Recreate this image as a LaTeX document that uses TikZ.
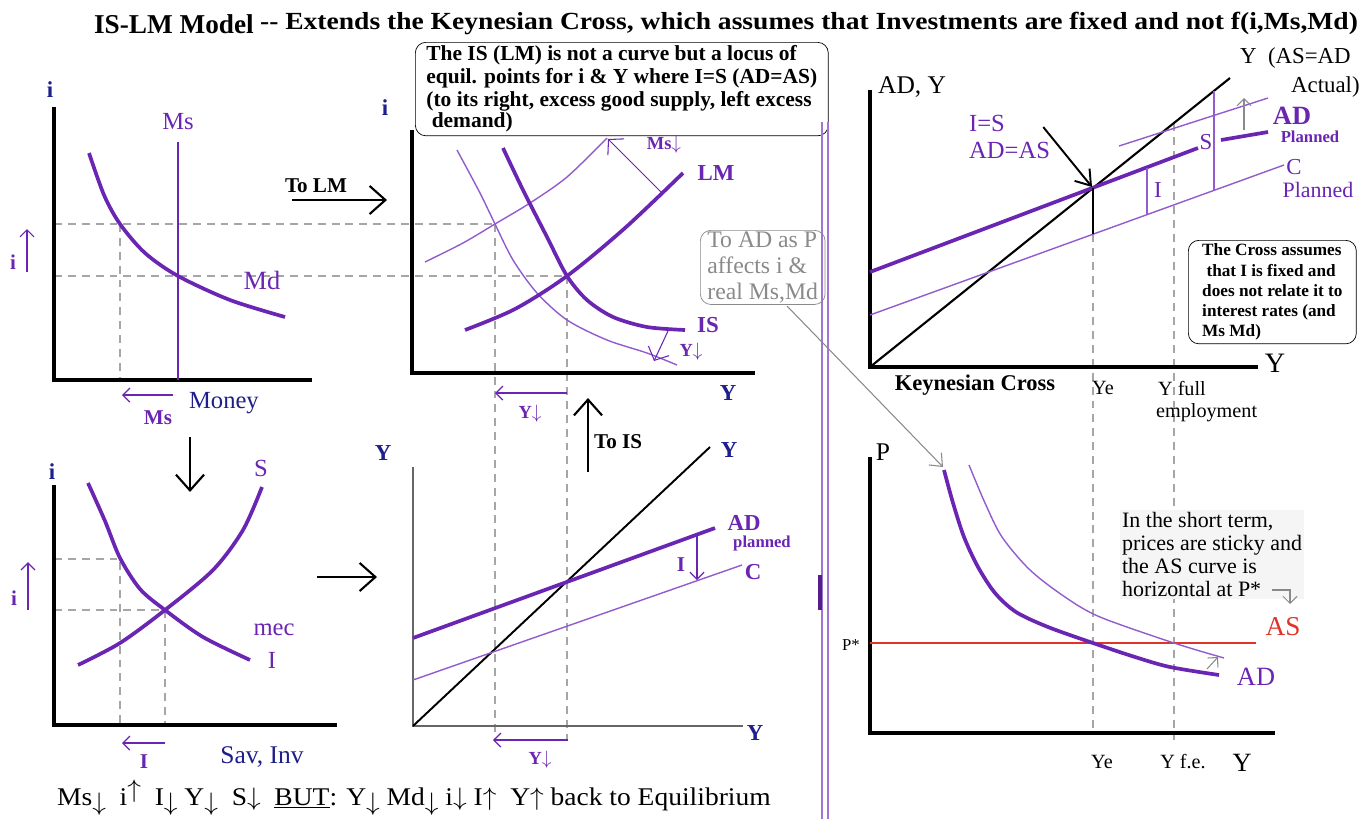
\documentclass[tikz,border=0pt]{standalone}
\usepackage{graphicx}
\usepackage{fontspec}
\setmainfont{Liberation Serif}
\usetikzlibrary{arrows.meta,positioning}
\definecolor{islmviolet}{RGB}{106,38,178}
\definecolor{islmlilac}{RGB}{146,92,206}
\definecolor{islmnavy}{RGB}{30,30,140}
\definecolor{islmred}{RGB}{224,52,40}
\definecolor{islmgray}{RGB}{138,138,138}
\newcommand{\lowdn}{\raisebox{-0.5ex}{$\downarrow$}}
\newcommand{\highup}{\raisebox{0.6ex}{$\uparrow$}}

\begin{document}
\begin{tikzpicture}[x=0.02cm,y=-0.02cm,
  every node/.style={inner sep=1pt},
  axis/.style={line width=2pt,black},
  softaxis/.style={line width=1.1pt,black!60},
  schedule/.style={line width=2.1pt,islmviolet},
  shifted/.style={line width=0.8pt,islmlilac},
  guide/.style={line width=0.8pt,black!35,dash pattern=on 4.5pt off 3.4pt},
  nudge/.style={-{Straight Barb[length=4pt,width=8pt]},line width=0.7pt,islmviolet},
  widenudge/.style={-{Straight Barb[length=6pt,width=13pt]},line width=0.6pt,islmviolet},
  greynudge/.style={-{Straight Barb[length=4pt,width=8pt]},line width=0.6pt,islmgray},
  flow/.style={-{Straight Barb[length=9pt,width=16pt]},line width=1.2pt},
  axname/.style={text=islmnavy,font=\bfseries\fontsize{13}{15}\selectfont},
  navyname/.style={text=islmnavy,font=\fontsize{14}{16}\selectfont},
  curvename/.style={text=islmviolet,font=\fontsize{14}{16}\selectfont},
  boldname/.style={text=islmviolet,font=\bfseries\fontsize{13}{15}\selectfont},
  shiftname/.style={text=islmviolet,font=\bfseries\fontsize{10.5}{12}\selectfont},
  txt/.style={font=\fontsize{12}{14}\selectfont},
  remark/.style={draw,rounded corners=6pt,align=left,inner xsep=4pt,inner ysep=2pt}]

\fill[white] (0,0) rectangle (1369,819);
\useasboundingbox (0,0) rectangle (1369,819);

\node[anchor=base west,font=\bfseries\fontsize{15.5}{18}\selectfont] (title) at (92,33) {IS-LM Model};
\node[anchor=base west,font=\bfseries\fontsize{14}{16}\selectfont] (subtitle) at (258,29)
  {\scalebox{1.12}[1]{-{}- Extends the Keynesian Cross, which assumes that Investments are fixed and not f(i,Ms,Md)}};

% money market
\draw[guide] (54,224) -- (495,224);
\draw[guide] (54,276) -- (567,276);
\draw[guide] (120,224) -- (120,380);
\draw[axis] (54,107) -- (54,380) -- (312,380);
\draw[schedule,line width=1.6pt] (178,142) -- (178,380);
\draw[schedule] plot[smooth] coordinates {(89,153) (104,195) (120,224) (145,253) (178,276) (230,300) (285,317)};
\node[axname] (mmi) at (50,90) {i};
\node[curvename] (mmms) at (178,122) {Ms};
\node[curvename,font=\fontsize{15}{17}\selectfont] (mmmd) at (262,280) {Md};
\node[navyname,anchor=west] (money) at (187,403) {Money};
\coordinate (msfrom) at (173,395); \coordinate (msto) at (122,395);
\draw[nudge] (msfrom) -- (msto);
\node[shiftname,font=\bfseries\fontsize{12}{14}\selectfont] (msless) at (158,418) {Ms};
\coordinate (mmilow) at (27,272); \coordinate (mmihigh) at (27,229);
\draw[nudge] (mmilow) -- (mmihigh);
\node[shiftname,font=\bfseries\fontsize{12}{14}\selectfont] (mmiup) at (13,262) {i};
\node[font=\bfseries\fontsize{12}{14}\selectfont] (tolm) at (316,186) {To LM};
\coordinate (tolmtail) at (292,200); \coordinate (tolmhead) at (387,200);
\draw[flow] (tolmtail) -- (tolmhead);
\coordinate (downtail) at (190,437); \coordinate (downhead) at (190,492);
\draw[flow] (downtail) -- (downhead);

% savings and investment
\draw[guide] (54,559) -- (120,559) -- (120,725);
\draw[guide] (54,610) -- (165,610) -- (165,725);
\draw[axis] (54,485) -- (54,725) -- (337,725);
\draw[schedule] plot[smooth] coordinates {(78,665) (120,643) (165,610) (213,570) (243,530) (262,487)};
\draw[schedule] plot[smooth] coordinates {(88,483) (105,521) (120,558) (140,589) (165,610) (203,637) (250,660)};
\node[axname] (sii) at (52,472) {i};
\node[curvename] (sis) at (261,468) {S};
\node[curvename] (simec) at (274,630) {mec};
\node[curvename] (sii2) at (272,660) {I};
\node[navyname,font=\fontsize{14.5}{16}\selectfont] (savinv) at (262,757) {Sav, Inv};
\coordinate (invfrom) at (165,743); \coordinate (invto) at (122,743);
\draw[nudge] (invfrom) -- (invto);
\node[shiftname,font=\bfseries\fontsize{12}{14}\selectfont] (invless) at (144,762) {I};
\coordinate (siilow) at (28,610); \coordinate (siihigh) at (28,562);
\draw[nudge] (siilow) -- (siihigh);
\node[shiftname,font=\bfseries\fontsize{12}{14}\selectfont] (siiup) at (14,598) {i};
\coordinate (righttail) at (317,577); \coordinate (righthead) at (377,577);
\draw[flow] (righttail) -- (righthead);

\node[anchor=base west,font=\fontsize{14.5}{16}\selectfont] (chain) at (55,805)
  {\scalebox{1.08}[1]{Ms\lowdn\ \ i\highup\ \ I\lowdn\ Y\lowdn\ \ S$\downarrow$\ \ \underline{BUT}: Y\lowdn\ Md\lowdn\ i$\downarrow$ I$\uparrow$\ \ Y$\uparrow$ back to Equilibrium}};

% IS-LM
\draw[guide] (495,224) -- (495,740);
\draw[guide] (567,276) -- (567,740);
\draw[axis] (412,130) -- (412,373) -- (755,373);
\draw[shifted] plot[smooth] coordinates {(425,262) (463,243) (495,224) (530,203) (567,177) (607,138)};
\draw[shifted] plot[smooth] coordinates {(457,150) (480,193) (495,224) (513,260) (537,293) (567,320) (607,340) (647,353) (677,365)};
\draw[schedule] plot[smooth] coordinates {(465,330) (515,309) (567,276) (625,228) (683,173)};
\draw[schedule] plot[smooth] coordinates {(503,148) (523,190) (547,237) (567,276) (587,300) (613,317) (647,327) (685,330)};
\node[remark,anchor=north west,minimum width=8.26cm,font=\bfseries\fontsize{12.2}{13}\selectfont] (locus) at (415,42)
  {The IS (LM) is not a curve but a locus of\\equil. points for i \& Y where I=S (AD=AS)\\(to its right, excess good supply, left excess\\[-1pt]\ demand)};
\node[axname] (islmi) at (385,108) {i};
\node[axname] (islmy) at (728,393) {Y};
\node[boldname] (lm) at (716,173) {LM};
\node[boldname] (is) at (708,325) {IS};
\coordinate (lmfoot) at (662,193); \coordinate (lmhead) at (608,139);
\draw[widenudge] (lmfoot) -- (lmhead);
\node[shiftname] (msdown) at (664,145) {Ms$\downarrow$};
\coordinate (isfoot) at (668,331); \coordinate (ishead) at (654,361);
\draw[widenudge] (isfoot) -- (ishead);
\node[shiftname] (isdown) at (691,352) {Y$\downarrow$};
\coordinate (yfrom) at (567,393); \coordinate (yto) at (495,393);
\draw[nudge] (yfrom) -- (yto);
\node[shiftname] (yless) at (530,414) {Y$\downarrow$};
\coordinate (toistail) at (588,472); \coordinate (toishead) at (588,398);
\draw[flow] (toistail) -- (toishead);
\node[font=\bfseries\fontsize{12}{14}\selectfont,anchor=west] (tois) at (592,442) {To IS};

% small cross
\draw[softaxis] (413,467) -- (413,726) -- (743,726);
\draw[line width=1.1pt] (413,726) -- (710,447);
\draw[schedule] (413,638) -- (715,528);
\draw[shifted] (413,680) -- (742,565);
\node[axname] (kcy) at (383,453) {Y};
\node[axname] (kcyy) at (729,450) {Y};
\node[axname] (kcx) at (755,733) {Y};
\node[boldname] (kcad) at (744,523) {AD};
\node[shiftname,font=\bfseries\fontsize{9.5}{11}\selectfont] (kcplanned) at (762,543) {planned};
\node[boldname] (kcc) at (753,572) {C};
\coordinate (kcifoot) at (697,536); \coordinate (kcihead) at (697,580);
\draw[nudge] (kcifoot) -- (kcihead);
\node[boldname,font=\bfseries\fontsize{12}{14}\selectfont] (kci) at (681,565) {I};
\coordinate (kcyfrom) at (568,740); \coordinate (kcyto) at (493,740);
\draw[nudge] (kcyfrom) -- (kcyto);
\node[shiftname] (kcyless) at (540,760) {Y$\downarrow$};

% separator
\draw[islmlilac!85,line width=0.9pt] (822,122) -- (822,819);
\draw[islmlilac!85,line width=0.9pt] (828,122) -- (828,819);
\draw[islmviolet!80!black,line width=2pt] (820,575) -- (820,610);

% link to AD
\node[remark,draw=islmgray,text=islmgray,anchor=north west,minimum width=2.4cm,inner ysep=1pt,font=\fontsize{13.5}{14.6}\selectfont] (adnote) at (700,230)
  {To AD as P\\affects i \&\\real Ms,Md};
\coordinate (adnotefoot) at (787,306);
\coordinate (adtop) at (943,467);
\draw[greynudge,-{Straight Barb[length=6pt,width=10pt]}] (adnotefoot) -- (adtop);

% keynesian cross
\draw[guide] (1093,234) -- (1093,733);
\draw[guide] (1174,123) -- (1174,740);
\draw[axis] (870,90) -- (870,367) -- (1258,367);
\draw[line width=1.2pt] (870,367) -- (1230,78);
\draw[shifted] (870,315) -- (1284,165);
\draw[shifted] (1119,146) -- (1268,98);
\draw[schedule] (870,272) -- (1198,148);
\draw[schedule] (1221,140) -- (1268,132);
\draw[line width=1.6pt] (1093,188) -- (1093,234);
\draw[shifted] (1147,168) -- (1147,214);
\draw[shifted] (1214,91) -- (1214,190);
\coordinate (gapfoot) at (1244,130); \coordinate (gaphead) at (1244,98);
\draw[greynudge] (gapfoot) -- (gaphead);
\coordinate (keq) at (1092,187);
\node[txt,font=\fontsize{14.5}{16}\selectfont,anchor=west] (kady) at (876,87) {AD, Y};
\node[txt,font=\fontsize{16}{18}\selectfont] (kyaxis) at (1275,363) {Y};
\node[txt,font=\fontsize{13}{15}\selectfont,anchor=west] (kyline) at (1238,58) {Y\ \ (AS=AD};
\node[txt,font=\fontsize{13}{15}\selectfont,anchor=west] (kactual) at (1289,87) {Actual)};
\node[boldname,font=\bfseries\fontsize{15}{17}\selectfont] (kad) at (1292,116) {AD};
\node[shiftname,font=\bfseries\fontsize{9.5}{11}\selectfont] (kadpl) at (1310,137) {Planned};
\node[curvename,font=\fontsize{13}{15}\selectfont] (kc) at (1294,167) {C};
\node[curvename,font=\fontsize{12.5}{14}\selectfont] (kcpl) at (1318,190) {Planned};
\node[curvename,font=\fontsize{13}{15}\selectfont] (ks) at (1206,142) {S};
\node[curvename,font=\fontsize{13}{15}\selectfont] (ki) at (1158,190) {I};
\node[curvename,align=left,anchor=north west,font=\fontsize{14}{15.5}\selectfont] (kisl) at (967,113) {I=S\\AD=AS};
\draw[flow,-{Straight Barb[length=8pt,width=11pt]},line width=1.1pt] ([xshift=-5pt,yshift=-8pt]kisl.north east) -- (keq);
\node[remark,anchor=north west,minimum width=3.36cm,font=\bfseries\fontsize{9.8}{11.5}\selectfont] (crossnote) at (1188,240)
  {The Cross assumes\\\ that I is fixed and\\does not relate it to\\interest rates (and\\Ms Md)};
\node[font=\bfseries\fontsize{12.8}{14}\selectfont] (kcross) at (975,385) {Keynesian Cross};
\node[txt,font=\fontsize{11.5}{13}\selectfont] (kye) at (1103,388) {Ye};
\node[txt,font=\fontsize{11.5}{13}\selectfont,anchor=west] (kyfull) at (1156,388) {Y full};
\node[txt,font=\fontsize{11.5}{13}\selectfont,anchor=west] (kemp) at (1154,413) {employment};

% AD-AS
\draw[axis] (870,457) -- (870,733) -- (1275,733);
\draw[line width=1.3pt,islmred] (870,643) -- (1256,643);
\draw[shifted] plot[smooth] coordinates {(969,465) (985,503) (1002,537) (1030,570) (1065,597) (1100,617) (1174,643) (1224,658)};
\draw[schedule] plot[smooth] coordinates {(944,470) (953,503) (964,537) (978,567) (995,593) (1016,612) (1048,627) (1093,643) (1135,657) (1170,667) (1219,675)};
\coordinate (adshiftfoot) at (1207,669); \coordinate (adshifthead) at (1218,657);
\draw[greynudge] (adshiftfoot) -- (adshifthead);
\node[txt,font=\fontsize{14.5}{16}\selectfont] (adp) at (883,452) {P};
\node[txt,font=\fontsize{9.5}{11}\selectfont] (adpstar) at (851,645) {P*};
\node[text=islmred,font=\fontsize{15.5}{17}\selectfont] (adas) at (1283,627) {AS};
\node[text=islmviolet,font=\fontsize{15}{17}\selectfont] (adad) at (1256,677) {AD};
\node[txt,fill=black!4,align=left,anchor=north west,font=\fontsize{12.5}{13.2}\selectfont] (sticky) at (1120,510)
  {In the short term,\\prices are sticky and\\the AS curve is\\horizontal at P*};
\coordinate (hookstart) at (1272,590); \coordinate (hookbend) at (1290,590); \coordinate (hookend) at (1290,604);
\draw[greynudge] (hookstart) -- (hookbend) -- (hookend);
\node[txt,font=\fontsize{11.5}{13}\selectfont] (adye) at (1102,762) {Ye};
\node[txt,font=\fontsize{11.5}{13}\selectfont] (adyfe) at (1183,762) {Y f.e.};
\node[txt,font=\fontsize{15}{17}\selectfont] (ady) at (1242,763) {Y};
\end{tikzpicture}
\end{document}
